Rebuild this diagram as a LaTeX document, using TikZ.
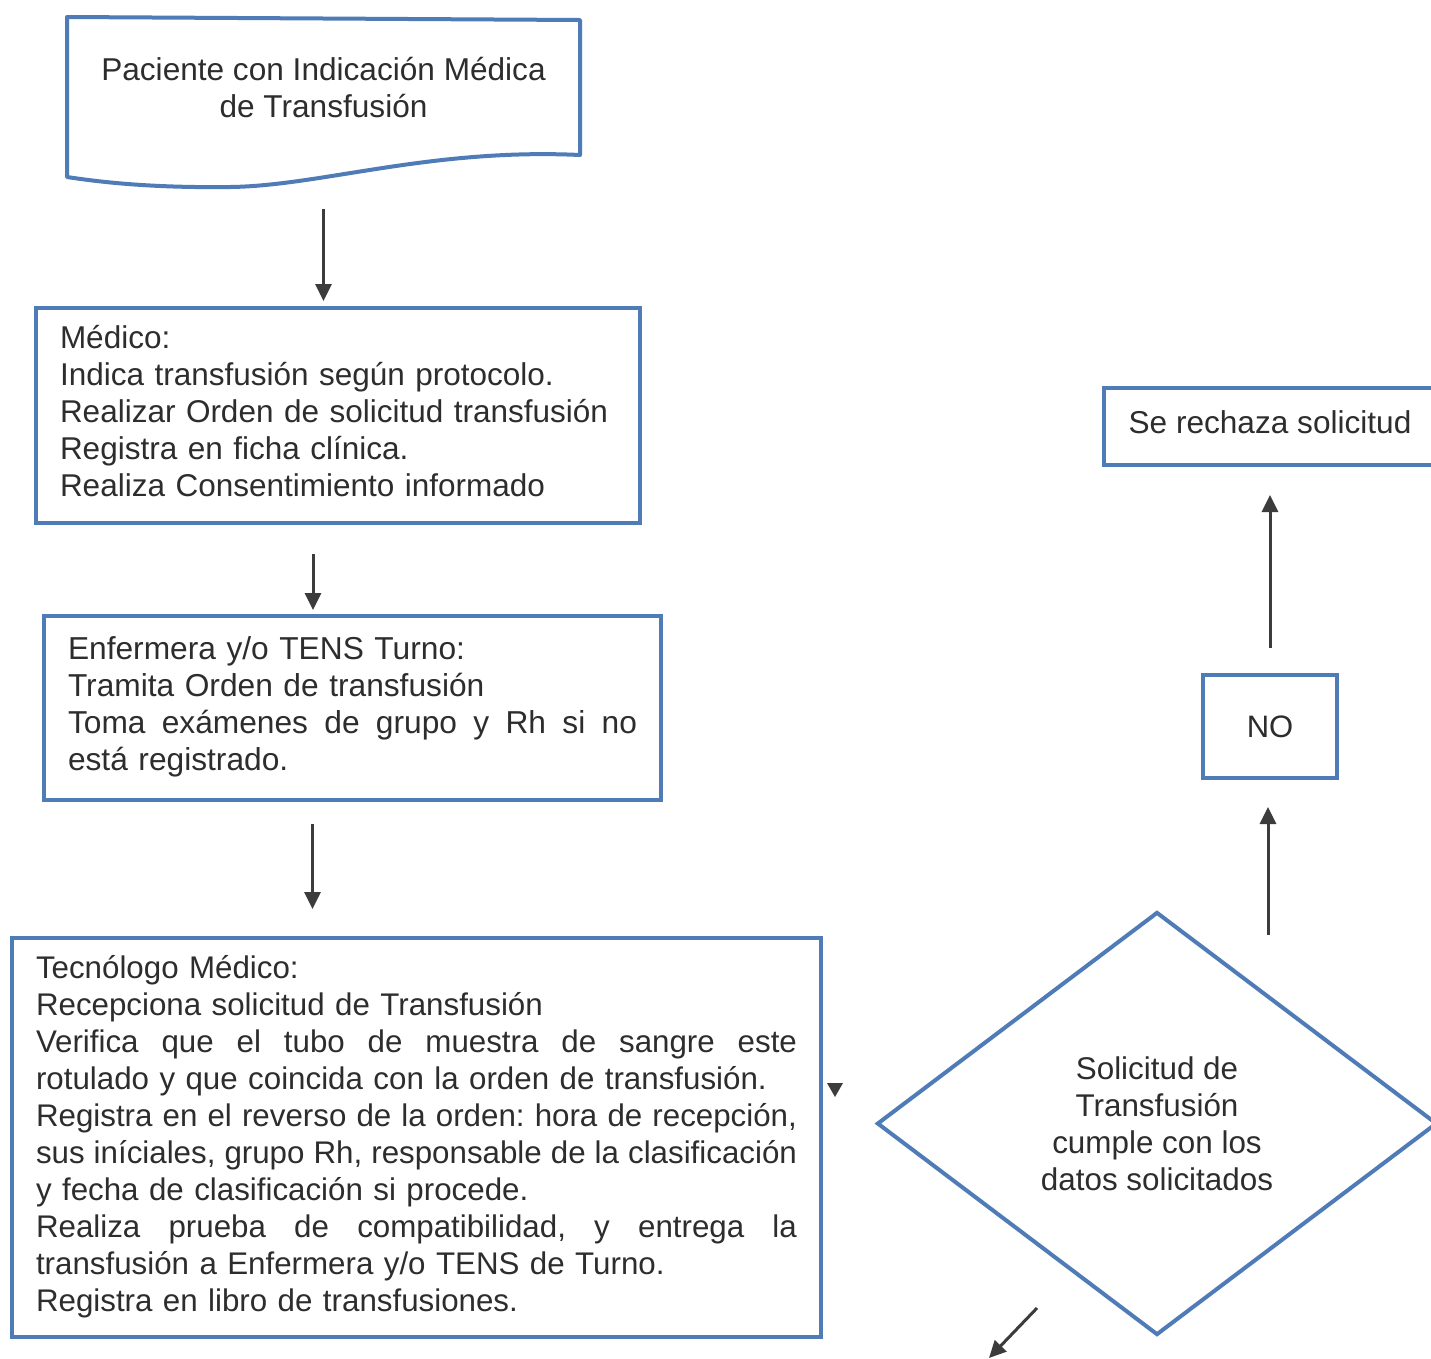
\documentclass[tikz,border=0pt]{standalone}
\usepackage{fontspec}
\setmainfont{Liberation Sans}
\usetikzlibrary{arrows.meta,shapes.geometric}
\definecolor{boxblue}{RGB}{79,124,182}
\definecolor{textc}{RGB}{45,45,45}
\definecolor{arrowc}{RGB}{60,60,60}
\frenchspacing
\newcommand\jline[2]{\leavevmode\hbox to #1{#2}}
\begin{document}
\begin{tikzpicture}[x=1pt,y=-1pt,
  box/.style={draw=boxblue, line width=4pt, inner sep=0pt, text=textc, fill=white},
  arr/.style={draw=arrowc, line width=3pt, -{Triangle[length=17pt,width=16pt]}},
  fs/.style={font=\fontsize{#1}{37}\selectfont}]
\useasboundingbox (0,0) rectangle (1431,1358);
\fill[white] (0,0) rectangle (1431,1358);

% document shape
\draw[draw=boxblue, line width=4pt, line join=round]
  (67,17) -- (580,20) -- (580,155)
  .. controls (430,148) and (320,186) .. (230,187)
  .. controls (150,188) and (100,182) .. (67,177) -- cycle;
\node[inner sep=0pt, minimum width=513pt, minimum height=160pt, text=textc,
      align=center, fs=31.6] (doc) at (323.5,92)
  {\strut Paciente con Indicación Médica\\ de Transfusión\strut};

\node[box, minimum width=604pt, minimum height=215pt, text width=556pt,
      align=left, fs=31.5] (med) at (338,415.5)
  {\strut Médico:\\ Indica transfusión según protocolo.\\ Realizar Orden de solicitud transfusión\\ Registra en ficha clínica.\\ Realiza Consentimiento informado\strut};

\node[box, minimum width=617pt, minimum height=184pt, text width=569pt,
      align=left, fs=31.7] (enf) at (352.5,708)
  {\strut Enfermera y/o TENS Turno:\\ Tramita Orden de transfusión\\
   \jline{569pt}{Toma\hfill exámenes\hfill de\hfill grupo\hfill y\hfill Rh\hfill si\hfill no}\\
   está registrado.\strut};

\node[box, minimum width=809pt, minimum height=399pt, text width=761pt,
      align=left, fs=31.3] (tec) at (416.5,1137.5)
  {\strut Tecnólogo Médico:\\
   Recepciona solicitud de Transfusión\\
   \jline{761pt}{Verifica\hfill que\hfill el\hfill tubo\hfill de\hfill muestra\hfill de\hfill sangre\hfill este}\\
   rotulado y que coincida con la orden de transfusión.\\
   \jline{761pt}{Registra\hfill en\hfill el\hfill reverso\hfill de\hfill la\hfill orden:\hfill hora\hfill de\hfill recepción,}\\
   \jline{761pt}{sus\hfill iníciales,\hfill grupo\hfill Rh,\hfill responsable\hfill de\hfill la\hfill clasificación}\\
   y fecha de clasificación si procede.\\
   \jline{761pt}{Realiza\hfill prueba\hfill de\hfill compatibilidad,\hfill y\hfill entrega\hfill la}\\
   transfusión a Enfermera y/o TENS de Turno.\\
   Registra en libro de transfusiones.\strut};

\node[box, shape=diamond, minimum width=560pt, minimum height=423pt] (dia) at (1157,1123.5) {};
\node[inner sep=0pt, align=center, text=textc, fs=31.4] (dtext) at (1157,1128)
  {\strut Solicitud de\\ Transfusión\\ cumple con los\\ datos solicitados\strut};

\node[box, minimum width=134pt, minimum height=103pt, fs=31] (no) at (1270,726.5) {NO};

\node[box, minimum width=332pt, minimum height=77pt, fs=31.6] (rech) at (1270,426.5)
  {\strut Se rechaza solicitud};

% connectors
\draw[arr, shorten <=37pt, shorten >=5pt] (doc.south) -- (doc.south |- med.north);
\draw[arr, shorten <=29pt, shorten >=4pt] ([xshift=-25pt]med.south) -- ([xshift=-25pt]med.south |- enf.north);
\draw[arr, shorten <=22pt, shorten >=27pt] ([xshift=-40pt]enf.south) -- ([xshift=-40pt]enf.south |- tec.north);
\draw[arr, shorten >=27pt] ([xshift=-2pt,yshift=-25pt]no.south |- dia.north) -- ([xshift=-2pt]no.south);
\draw[arr, shorten <=25pt, shorten >=28pt] (no.north) -- (no.north |- rech.south);

\coordinate (s1) at (1037,1308);
\coordinate (s2) at (989,1358);
\draw[arr] (s1) -- (s2);

% stray arrowhead
\coordinate (t1) at (835,1097);
\fill[arrowc] (827,1083) -- (843,1083) -- (t1) -- cycle;
\end{tikzpicture}
\end{document}
